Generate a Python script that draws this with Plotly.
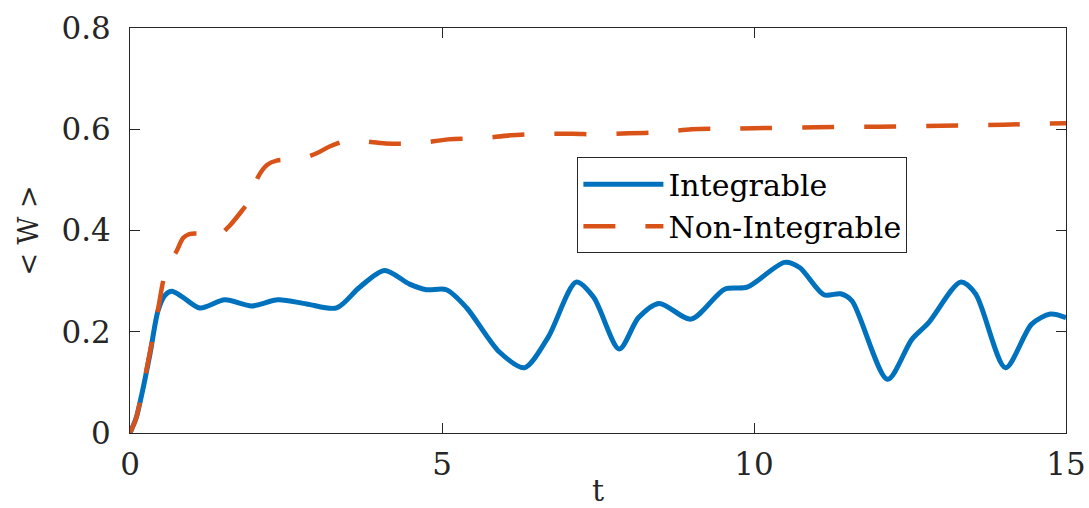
import plotly.graph_objects as go

t_int = [0.0, 0.1, 0.19, 0.32, 0.45, 0.56, 0.67, 0.85, 1.12, 1.52, 1.95, 2.37, 2.83, 3.31, 3.68, 4.08,
         4.48, 4.75, 5.07, 5.39, 5.92, 6.32, 6.70, 7.15, 7.43, 7.84, 8.15, 8.48, 8.99, 9.53, 9.89,
         10.49, 10.73, 11.12, 11.39, 11.57, 12.14, 12.53, 12.80, 13.31, 13.55, 14.03, 14.45, 14.75, 15.0]
w_int = [0.0, 0.03, 0.077, 0.156, 0.242, 0.272, 0.280, 0.268, 0.247, 0.263, 0.251, 0.263, 0.255, 0.247,
         0.288, 0.321, 0.294, 0.283, 0.283, 0.248, 0.160, 0.129, 0.189, 0.298, 0.268, 0.166, 0.228,
         0.256, 0.225, 0.284, 0.288, 0.337, 0.327, 0.273, 0.275, 0.261, 0.106, 0.185, 0.218, 0.298,
         0.275, 0.129, 0.215, 0.235, 0.228]

t_non = [0.0, 0.1, 0.19, 0.32, 0.45, 0.56, 0.65, 0.75, 0.85, 0.95, 1.1, 1.3, 1.45, 1.6, 1.8, 1.95,
         2.05, 2.2, 2.35, 2.75, 3.0, 3.2, 3.4, 3.6, 4.1, 4.6, 5.1, 5.6, 6.1, 6.6, 7.1, 7.5, 8.0, 8.5,
         9.0, 9.5, 10.0, 11.0, 12.0, 13.0, 14.0, 15.0]
w_non = [0.0, 0.03, 0.08, 0.16, 0.245, 0.315, 0.34, 0.36, 0.385, 0.393, 0.394, 0.390, 0.393, 0.41,
         0.44, 0.465, 0.505, 0.53, 0.538, 0.542, 0.553, 0.566, 0.575, 0.578, 0.572, 0.572, 0.580,
         0.582, 0.588, 0.591, 0.591, 0.590, 0.592, 0.594, 0.600, 0.601, 0.602, 0.604, 0.605, 0.607,
         0.609, 0.612]

x_ticks = [0, 5, 10, 15]
y_ticks = [0, 0.2, 0.4, 0.6, 0.8]
y_tick_text = ["0", "0.2", "0.4", "0.6", "0.8"]

FONT = "DejaVu Serif"
INK = "#262626"

fig = go.Figure()
fig.add_trace(go.Scatter(x=t_int, y=w_int, mode="lines", name="Integrable",
                         line=dict(color="#0072BD", width=5, shape="spline", smoothing=0.8)))
fig.add_trace(go.Scatter(x=t_non, y=w_non, mode="lines", name="Non-Integrable",
                         line=dict(color="#D95319", width=4.5, dash="32px,30px", shape="spline", smoothing=0.8)))

axis_common = dict(showgrid=False, zeroline=False, showline=True, mirror="ticks",
                   linecolor=INK, linewidth=1, ticks="inside", ticklen=10, automargin=False,
                   tickcolor=INK, tickfont=dict(family=FONT, size=31, color=INK))

fig.update_xaxes(range=[0, 15], tickvals=x_ticks,
                 title=dict(text="t", font=dict(family=FONT, size=30, color=INK)),
                 ticklabelstandoff=4, **axis_common)
fig.update_yaxes(range=[0, 0.8], tickvals=y_ticks, ticktext=y_tick_text,
                 title=dict(text="< W >", font=dict(family=FONT, size=27, color=INK)),
                 ticklabelstandoff=12, **axis_common)

fig.update_layout(
    width=1089, height=508,
    margin=dict(l=130, r=23, t=28, b=75),
    paper_bgcolor="white", plot_bgcolor="white",
    legend=dict(x=0.478, y=0.681, xanchor="left", yanchor="top",
                bgcolor="white", bordercolor=INK, borderwidth=1, itemwidth=80,
                font=dict(family=FONT, size=30, color="black"), tracegroupgap=0),
)

fig.write_html("out.html", config={"displayModeBar": False},
               post_script="document.body.style.margin='0px';")
